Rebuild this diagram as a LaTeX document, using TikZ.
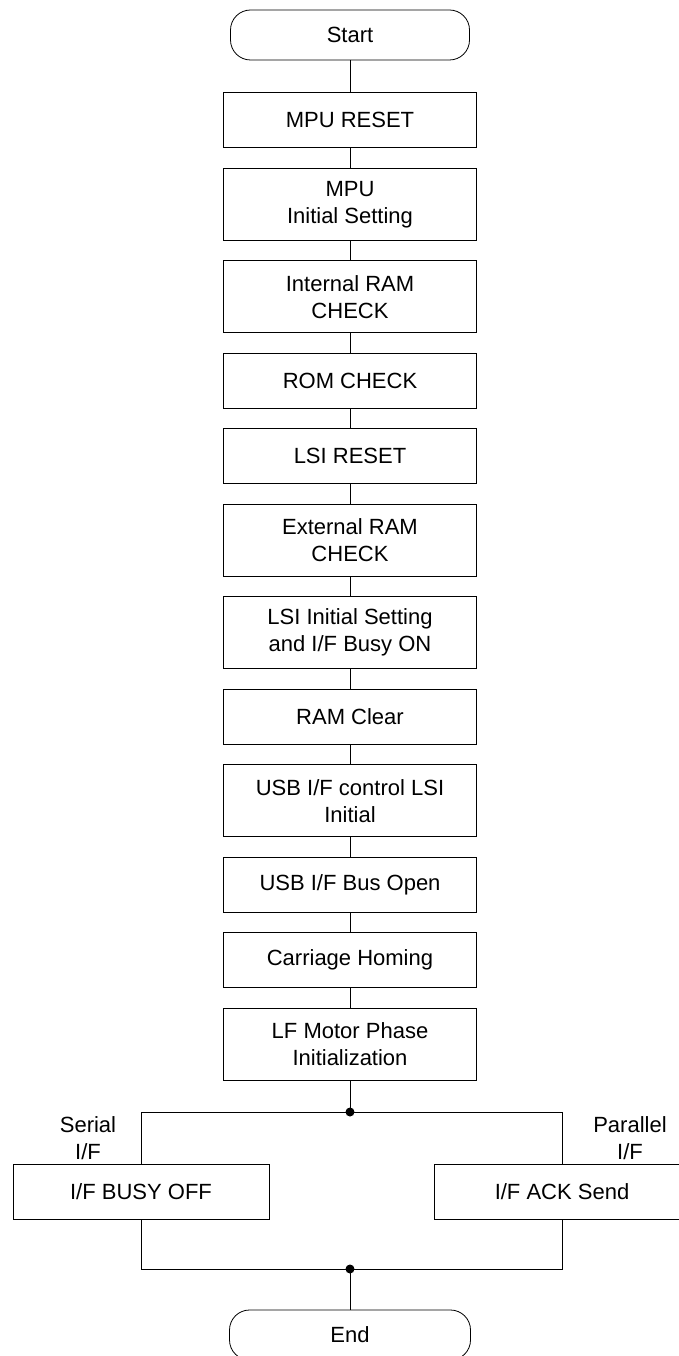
\documentclass[tikz,border=0pt]{standalone}
\usepackage{fontspec}
\setmainfont{Liberation Sans}
\usetikzlibrary{positioning,calc}

\begin{document}
\begin{tikzpicture}[
    x=1pt, y=-1pt,
    node distance=19.7pt,
    every node/.style={font=\fontsize{22pt}{27pt}\selectfont, align=center, inner sep=0pt},
    box/.style={draw, line width=0.8pt, minimum width=253pt, minimum height=55pt},
    tallbox/.style={box, minimum height=72pt},
    term/.style={draw, line width=0.8pt, rounded corners=20pt, minimum width=239pt, minimum height=50pt},
    line/.style={line width=0.8pt}]

    \useasboundingbox (0,0) rectangle (679,1356);

    % main sequence
    \node[term] (start) at (350,35) {Start};
    \node[box, below=32pt of start] (mpureset) {MPU RESET};
    \node[tallbox, below=of mpureset] (mpuinit) {MPU\\Initial Setting};
    \node[tallbox, below=of mpuinit] (iramchk) {Internal RAM\\CHECK};
    \node[box, below=of iramchk] (romchk) {ROM CHECK};
    \node[box, below=of romchk] (lsireset) {LSI RESET};
    \node[tallbox, below=of lsireset] (eramchk) {External RAM\\CHECK};
    \node[tallbox, below=of eramchk] (lsiinit) {LSI Initial Setting\\and I/F Busy ON};
    \node[box, below=of lsiinit] (ramclr) {RAM Clear};
    \node[tallbox, below=of ramclr] (usbinit) {USB I/F control LSI\\Initial};
    \node[box, below=of usbinit] (usbopen) {USB I/F Bus Open};
    \node[box, below=of usbopen] (carhome) {Carriage Homing};
    \node[tallbox, below=of carhome] (lfinit) {LF Motor Phase\\Initialization};

    \foreach \a/\b in {start/mpureset, mpureset/mpuinit, mpuinit/iramchk, iramchk/romchk,
        romchk/lsireset, lsireset/eramchk, eramchk/lsiinit, lsiinit/ramclr, ramclr/usbinit,
        usbinit/usbopen, usbopen/carhome, carhome/lfinit}
        \draw[line] (\a) -- (\b);

    % interface branch
    \coordinate (split) at (350,1112);
    \node[box, minimum width=256pt] (busyoff) at (141,1191.5) {I/F BUSY OFF};
    \node[box, minimum width=256pt] (acksend) at (562,1191.5) {I/F ACK Send};
    \node (serlbl) at (88,1138) {Serial\\I/F};
    \node (parlbl) at (630,1138) {Parallel\\I/F};
    \coordinate (merge) at (350,1269);
    \node[term, minimum width=241pt] (endterm) at (350,1335) {End};

    \draw[line] (lfinit) -- (split);
    \draw[line] (split) -| (busyoff);
    \draw[line] (split) -| (acksend);
    \draw[line] (busyoff) |- (merge);
    \draw[line] (acksend) |- (merge);
    \draw[line] (merge) -- (endterm);
    \fill (split) circle (4.5pt);
    \fill (merge) circle (4.5pt);
\end{tikzpicture}
\end{document}
